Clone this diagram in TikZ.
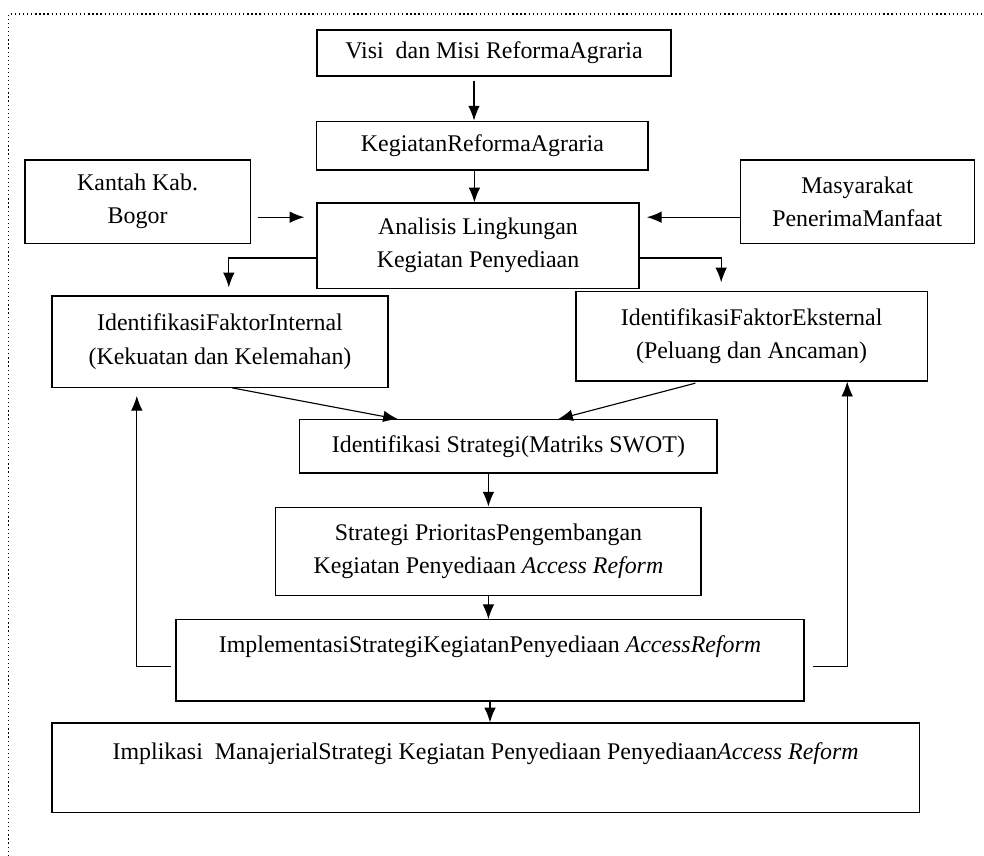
\documentclass[tikz,border=0pt]{standalone}
\usepackage{fontspec}
\setmainfont{Liberation Serif}
\usepackage{tikz}
\usetikzlibrary{arrows.meta, positioning, calc}

\begin{document}
\begin{tikzpicture}[font=\fontsize{17}{23.5}\selectfont,
    kotak/.style={draw, line width=0.9pt, inner sep=0pt, align=center},
    panah/.style={-{Latex[length=3.7mm,width=2.9mm]}, line width=0.8pt}]
    \useasboundingbox (0,0) rectangle (24.6,-21.375);
    % bingkai titik-titik
    \draw[dotted, line width=0.9pt] (0.22,-21.5) -- (0.22,-0.35) -- (24.8,-0.35);

    \node[kotak, minimum width=8.85cm, minimum height=1.15cm] (visi) at (12.35,-1.325) {Visi\ \ dan Misi ReformaAgraria};
    \node[kotak, minimum width=8.28cm, minimum height=1.22cm] (keg) at (12.06,-3.64) {KegiatanReformaAgraria};
    \node[kotak, minimum width=5.63cm, minimum height=2.08cm] (kantah) at (3.44,-5.04) {Kantah Kab.\\Bogor};
    \node[kotak, minimum width=5.85cm, minimum height=2.08cm] (masy) at (21.43,-5.04) {Masyarakat\\PenerimaManfaat};
    \node[kotak, minimum width=8.05cm, minimum height=2.13cm] (anal) at (11.95,-6.14) {Analisis Lingkungan\\Kegiatan Penyediaan};
    \node[kotak, minimum width=8.4cm, minimum height=2.28cm] (intern) at (5.5,-8.54) {IdentifikasiFaktorInternal\\(Kekuatan dan Kelemahan)};
    \node[kotak, minimum width=8.78cm, minimum height=2.23cm] (extern) at (18.79,-8.41) {IdentifikasiFaktorEksternal\\(Peluang dan Ancaman)};
    \node[kotak, minimum width=10.43cm, minimum height=1.33cm] (swot) at (12.71,-11.16) {Identifikasi Strategi(Matriks SWOT)};
    \node[kotak, minimum width=10.63cm, minimum height=2.2cm] (strat) at (12.21,-13.78) {Strategi PrioritasPengembangan\\Kegiatan Penyediaan \textit{Access Reform}};
    \node[kotak, minimum width=15.7cm, minimum height=2.03cm] (impl) at (12.25,-16.51) {ImplementasiStrategiKegiatanPenyediaan \textit{AccessReform}\\\mbox{}};
    \node[kotak, minimum width=21.68cm, minimum height=2.23cm] (implik) at (12.14,-19.19) {Implikasi\ \ ManajerialStrategi Kegiatan Penyediaan Penyediaan\textit{Access Reform}\\\mbox{}};

    \draw[panah, shorten <=1mm] ([xshift=-5mm]visi.south) -- ([xshift=-5mm]visi.south |- keg.north);
    \draw[panah] ([xshift=-2mm]keg.south) -- ([xshift=-2mm]keg.south |- anal.north);
    \draw[panah, shorten <=1.8mm, shorten >=3mm] ([yshift=-3.9mm]kantah.east) -- ([yshift=-3.9mm]kantah.east -| anal.west);
    \draw[panah, shorten >=1.8mm] ([yshift=-3.9mm]masy.west) -- ([yshift=-3.9mm]masy.west -| anal.east);
    \draw[panah, shorten >=2mm] ([yshift=-3.1mm]anal.west) -| ([xshift=2.2mm]intern.north);
    \draw[panah, shorten >=2.2mm] ([yshift=-3.1mm]anal.east) -| ([xshift=-7.6mm]extern.north);

    \draw[panah] ([xshift=3mm]intern.south) -- ([xshift=-27.6mm]swot.north);
    \draw[panah, shorten <=1.5mm] ([xshift=-12.6mm]extern.south) -- ([xshift=12.4mm]swot.north);
    \draw[panah] (swot.south -| strat.north) -- (strat.north);
    \draw[panah] (strat.south) -- (strat.south |- impl.north);
    \draw[panah] (impl.south) -- (impl.south |- implik.north);

    % umpan balik
    \draw[panah, shorten <=1mm, shorten >=2mm] ([yshift=-1.6mm]impl.west) -| ([xshift=-20.8mm]intern.south);
    \draw[panah, line width=0.6pt, shorten <=2mm] ([yshift=-1.6mm]impl.east) -| ([xshift=23.9mm]extern.south);
\end{tikzpicture}
\end{document}
